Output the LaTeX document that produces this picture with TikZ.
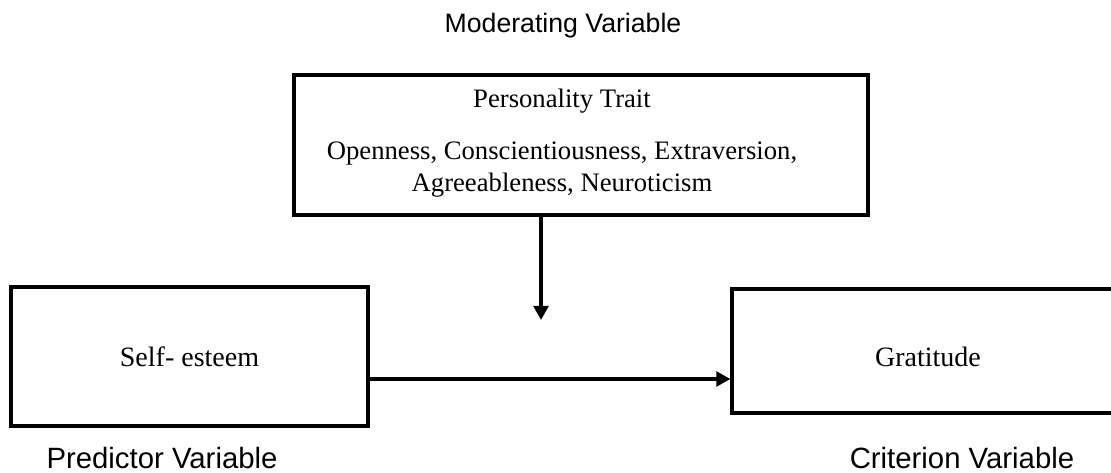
\documentclass[tikz,border=0pt]{standalone}
\usepackage{fontspec}
\setmainfont{Liberation Serif}
\newfontfamily\labelfont{Liberation Sans}
\usetikzlibrary{arrows.meta}
\tikzset{
  varbox/.style={draw, line width=2.4pt, inner sep=0pt},
  boxtext/.style={font=\fontsize{20}{24}\selectfont, inner sep=0pt},
  varname/.style={font=\labelfont\fontsize{22}{26}\selectfont, inner sep=0pt, anchor=base},
  link/.style={line width=2.4pt, -{Triangle[length=10.5pt,width=11pt]}},
}
\begin{document}
\begin{tikzpicture}[x=0.75pt, y=-0.75pt]
  \useasboundingbox (0,0) rectangle (1111,473);
  % moderator
  \node[varname, font=\labelfont\fontsize{20}{24}\selectfont] (modlabel) at (563,33) {Moderating Variable};
  \node[varbox, minimum width=430.5pt, minimum height=105pt] (trait) at (581,145) {};
  \node[boxtext, anchor=base] (traittitle) at (562,108) {Personality Trait};
  \node[boxtext, anchor=base] (traitlist1) at (562,160) {Openness, Conscientiousness, Extraversion,};
  \node[boxtext, anchor=base] (traitlist2) at (562,192) {Agreeableness, Neuroticism};
  % predictor and criterion
  \node[varbox, boxtext, font=\fontsize{21}{25}\selectfont, minimum width=267.75pt, minimum height=104.25pt] (selfesteem) at (189.5,356.5) {Self-\ esteem};
  \node[varbox, boxtext, font=\fontsize{21}{25}\selectfont, text height=24pt, text depth=0pt, minimum width=294pt, minimum height=93pt] (gratitude) at (928,351) {Gratitude};
  \node[varname] (predlabel) at (162,469) {Predictor Variable};
  \node[varname] (critlabel) at (962,469) {Criterion Variable};
  % paths
  \coordinate (modpoint) at (541,320);
  \coordinate (pathy) at (0,379);
  \draw[link] (trait.south -| modpoint) -- (modpoint);
  \draw[link] (selfesteem.east |- pathy) -- (gratitude.west |- pathy);
\end{tikzpicture}
\end{document}
